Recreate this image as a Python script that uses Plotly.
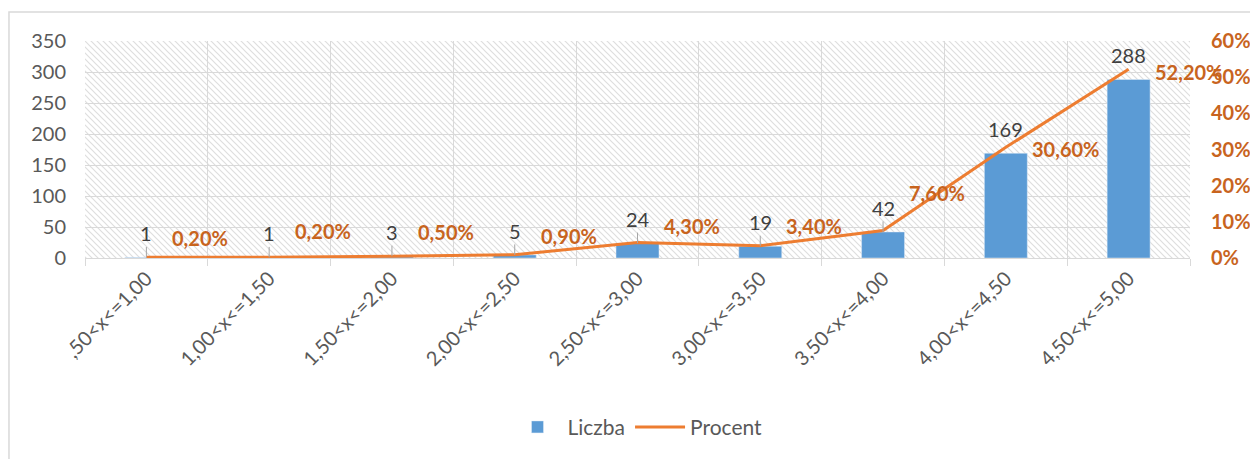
import base64
import plotly.graph_objects as go

categories = [",50<x<=1,00", "1,00<x<=1,50", "1,50<x<=2,00", "2,00<x<=2,50",
              "2,50<x<=3,00", "3,00<x<=3,50", "3,50<x<=4,00", "4,00<x<=4,50",
              "4,50<x<=5,00"]
liczba = [1, 1, 3, 5, 24, 19, 42, 169, 288]
procent = [0.002, 0.002, 0.005, 0.009, 0.043, 0.034, 0.076, 0.306, 0.522]
procent_labels = ["0,20%", "0,20%", "0,50%", "0,90%", "4,30%", "3,40%",
                  "7,60%", "30,60%", "52,20%"]

# label placement (pixels above the point)
pct_dy = [19, 26, 24, 19, 16, 20, 38, -2, -3]
bar_leader = [True, True, True, True, True, True, True, False, False]

BLUE = "#5B9BD5"
ORANGE = "#ED7D31"
DARK_ORANGE = "#C8641E"
GRAY = "#595959"
FONT = "Lato, Carlito, sans-serif"

# hatched plot background (Excel "wide downward diagonal")
svg = ("<svg xmlns='http://www.w3.org/2000/svg' width='1105' height='217'>"
       "<defs><pattern id='h' width='6' height='6' patternUnits='userSpaceOnUse'>"
       "<path d='M-1,5 l2,2 M0,0 l6,6 M5,-1 l2,2' stroke='#DEDEDE' stroke-width='1.2'/>"
       "</pattern></defs><rect width='1105' height='217' fill='url(#h)'/></svg>")
hatch = "data:image/svg+xml;base64," + base64.b64encode(svg.encode()).decode()

fig = go.Figure()
fig.add_trace(go.Bar(x=categories, y=liczba, name="Liczba", marker_color=BLUE,
                     width=0.35, hoverinfo="x+y"))
fig.add_trace(go.Scatter(x=categories, y=procent, name="Procent", yaxis="y2",
                         mode="lines", line=dict(color=ORANGE, width=3)))

annotations = []
for i, c in enumerate(categories):
    annotations.append(dict(
        x=c, y=liczba[i], xref="x", yref="y", text=str(liczba[i]),
        showarrow=bar_leader[i], arrowhead=0, arrowwidth=1, arrowcolor="#A6A6A6",
        ax=0, ay=-24, yshift=0 if bar_leader[i] else 24,
        font=dict(family=FONT, size=20, color="#404040")))
    annotations.append(dict(
        x=c, y=procent[i], xref="x", yref="y2", text=procent_labels[i],
        showarrow=False, xanchor="left", xshift=24, yshift=pct_dy[i],
        font=dict(family=FONT, size=20, color=DARK_ORANGE, weight="bold")))

# the page body has an 8px margin, so the figure is 8px smaller than the window
fig.update_layout(
    width=1250, height=451,
    margin=dict(l=77, r=68, t=33, b=201),
    paper_bgcolor="white", plot_bgcolor="rgba(0,0,0,0)",
    font=dict(family=FONT, color=GRAY),
    barmode="overlay",
    showlegend=True,
    legend=dict(orientation="h", x=0.5, xanchor="center", y=-0.78, yanchor="middle",
                font=dict(size=21, color=GRAY), itemwidth=50),
    xaxis=dict(type="category", range=[-0.5, len(categories) - 0.5],
               tickson="boundaries", ticks="outside", ticklen=7,
               tickcolor="#D9D9D9", showgrid=True, gridcolor="#D9D9D9",
               showline=True, linecolor="#D9D9D9", tickangle=-45, automargin=False,
               tickfont=dict(size=20, color=GRAY)),
    yaxis=dict(range=[0, 350], dtick=50, showgrid=True, gridcolor="#D9D9D9",
               zeroline=False, ticklabelstandoff=18, automargin=False,
               tickfont=dict(size=20, color=GRAY)),
    yaxis2=dict(range=[0, 0.6], dtick=0.1, tickformat=".0%", overlaying="y",
                side="right", showgrid=False, zeroline=False, ticklabelstandoff=20,
                automargin=False,
                tickfont=dict(size=20, color=DARK_ORANGE, weight="bold")),
    images=[dict(source=hatch, xref="paper", yref="paper", x=0, y=1, sizex=1,
                 sizey=1, sizing="stretch", layer="below")],
    shapes=[dict(type="rect", xref="paper", yref="paper", x0=-0.0688, y0=-1.5,
                 x1=1.3, y1=1.1336, line=dict(color="#D9D9D9", width=1.5))],
    annotations=annotations,
)

fig.write_html("out.html")
